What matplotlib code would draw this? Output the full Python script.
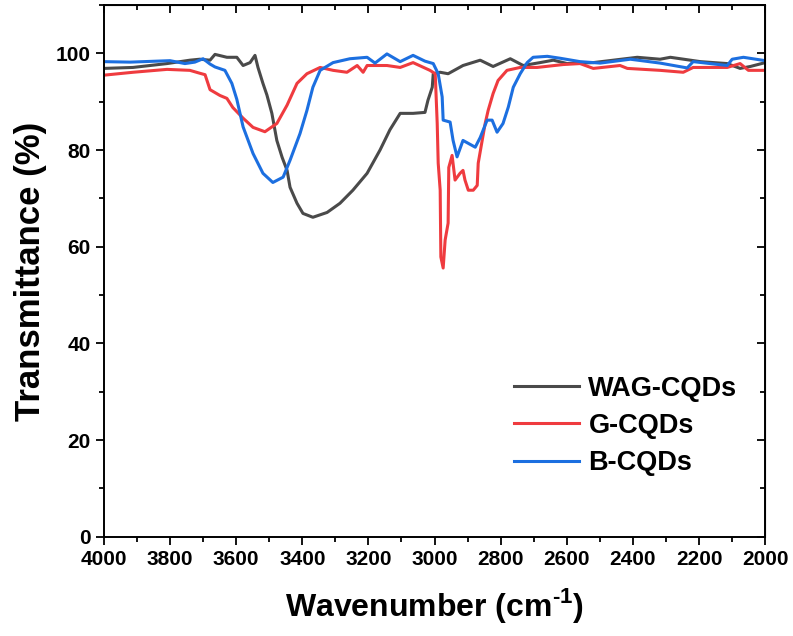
import matplotlib
matplotlib.use("Agg")
import matplotlib.pyplot as plt
from matplotlib.ticker import MultipleLocator

plt.rcParams['font.family'] = ['Liberation Sans', 'DejaVu Sans']
plt.rcParams['font.weight'] = 'bold'
plt.rcParams['mathtext.fontset'] = 'custom'
plt.rcParams['mathtext.rm'] = 'Liberation Sans:bold'
plt.rcParams['mathtext.bf'] = 'Liberation Sans:bold'

# FTIR spectra (wavenumber in cm-1, transmittance in %)
wag_x = [4000, 3912, 3809, 3740, 3710, 3679, 3664, 3628, 3598, 3579, 3558, 3543, 3534,
         3519, 3507, 3492, 3477, 3461, 3446, 3437, 3416, 3398, 3368, 3325, 3286, 3247,
         3204, 3165, 3135, 3104, 3065, 3029, 3020, 3007, 3004, 2983, 2959, 2914, 2862,
         2823, 2771, 2732, 2681, 2641, 2599, 2520, 2387, 2318, 2287, 2196, 2115, 2076,
         2045, 2000]
wag_y = [96.9, 97.1, 97.9, 98.6, 98.8, 98.6, 99.8, 99.2, 99.2, 97.5, 98.1, 99.6, 97.1,
         93.8, 91.4, 87.6, 82.0, 78.5, 75.8, 72.3, 69.0, 66.9, 66.1, 67.1, 69.0, 71.7,
         75.2, 80.0, 84.2, 87.6, 87.6, 87.8, 90.3, 93.0, 95.8, 96.1, 95.8, 97.5, 98.6,
         97.3, 98.9, 97.5, 98.1, 98.6, 97.9, 98.1, 99.2, 98.8, 99.2, 98.3, 97.9, 96.9,
         97.3, 98.1]

g_x = [4000, 3912, 3809, 3740, 3710, 3694, 3679, 3649, 3628, 3610, 3579, 3549, 3513,
       3477, 3446, 3416, 3386, 3346, 3307, 3265, 3234, 3216, 3204, 3144, 3104, 3065,
       3014, 2998, 2992, 2989, 2983, 2981, 2974, 2968, 2959, 2957, 2947, 2938, 2923,
       2914, 2908, 2898, 2883, 2871, 2868, 2856, 2847, 2838, 2823, 2808, 2781, 2741,
       2690, 2611, 2560, 2520, 2439, 2417, 2318, 2248, 2218, 2115, 2076, 2051, 2000]
g_y = [95.5, 96.1, 96.7, 96.5, 95.9, 95.6, 92.5, 91.3, 90.7, 88.8, 86.6, 84.7, 83.8,
       85.5, 89.3, 93.8, 95.8, 97.1, 96.5, 96.1, 97.5, 96.1, 97.5, 97.5, 97.1, 98.1,
       96.5, 95.8, 85.5, 77.3, 71.7, 57.9, 55.6, 61.4, 64.9, 76.4, 78.9, 73.8, 75.2,
       75.8, 73.8, 71.7, 71.7, 72.7, 77.3, 82.0, 85.5, 88.2, 91.7, 94.4, 96.5, 97.1,
       97.1, 97.7, 97.9, 96.9, 97.5, 96.9, 96.5, 96.1, 97.1, 97.1, 97.9, 96.5, 96.5]

b_x = [4000, 3921, 3800, 3755, 3725, 3700, 3679, 3664, 3634, 3613, 3598, 3579, 3549,
       3519, 3489, 3458, 3437, 3407, 3386, 3368, 3346, 3307, 3256, 3204, 3180, 3144,
       3104, 3065, 3029, 3004, 2989, 2977, 2974, 2953, 2944, 2932, 2914, 2877, 2862,
       2841, 2826, 2811, 2793, 2777, 2762, 2741, 2720, 2702, 2659, 2620, 2560, 2499,
       2408, 2318, 2236, 2218, 2115, 2100, 2066, 2000]
b_y = [98.3, 98.2, 98.5, 97.9, 98.2, 98.9, 97.8, 97.2, 96.5, 93.8, 90.5, 84.8, 79.3,
       75.2, 73.3, 74.4, 77.9, 83.4, 88.2, 93.0, 96.5, 98.1, 98.9, 99.2, 98.0, 99.9,
       98.3, 99.6, 98.4, 97.9, 95.8, 91.0, 86.2, 85.8, 82.0, 78.6, 82.0, 80.6, 82.6,
       86.2, 86.2, 83.7, 85.5, 88.9, 93.0, 95.8, 98.1, 99.2, 99.4, 99.0, 98.3, 98.0,
       98.8, 98.0, 97.0, 98.3, 97.5, 98.8, 99.2, 98.5]

fig = plt.figure(figsize=(7.93, 6.36), dpi=100)
ax = fig.add_axes([0.131, 0.156, 0.834, 0.836])

ax.plot(wag_x, wag_y, color='#4a4a4a', lw=2.2, label='WAG-CQDs')
ax.plot(g_x, g_y, color='#ef3b3f', lw=2.2, label='G-CQDs')
ax.plot(b_x, b_y, color='#1c6fe0', lw=2.2, label='B-CQDs')

ax.set_xlim(4000, 2000)
ax.set_ylim(0, 110)
ax.xaxis.set_major_locator(MultipleLocator(200))
ax.xaxis.set_minor_locator(MultipleLocator(100))
ax.yaxis.set_major_locator(MultipleLocator(20))
ax.yaxis.set_minor_locator(MultipleLocator(10))

ax.tick_params(which='both', direction='out', width=1.3, labelsize=15, top=False, right=False)
ax.tick_params(which='major', length=6)
ax.tick_params(which='minor', length=3.5)
for s in ax.spines.values():
    s.set_linewidth(1.4)

# inward ticks on the top and right edges
ax_top = ax.secondary_xaxis('top')
ax_top.xaxis.set_major_locator(MultipleLocator(200))
ax_top.xaxis.set_minor_locator(MultipleLocator(100))
ax_top.tick_params(which='both', direction='in', width=1.3, labeltop=False)
ax_top.tick_params(which='major', length=6)
ax_top.tick_params(which='minor', length=3.5)
ax_right = ax.secondary_yaxis('right')
ax_right.yaxis.set_major_locator(MultipleLocator(20))
ax_right.yaxis.set_minor_locator(MultipleLocator(10))
ax_right.tick_params(which='both', direction='in', width=1.3, labelright=False)
ax_right.tick_params(which='major', length=6)
ax_right.tick_params(which='minor', length=3.5)

ax.set_xlabel('Wavenumber (cm$^{\\text{-1}}$)', fontsize=23, fontweight='bold', labelpad=12)
ax.set_ylabel('Transmittance (%)', fontsize=25, fontweight='bold', labelpad=6)

ax.legend(loc='lower right', bbox_to_anchor=(0.995, 0.068), frameon=False, fontsize=19.5,
          handlelength=2.4, labelspacing=0.42, handletextpad=0.35)

fig.savefig('out.png', dpi=100)
